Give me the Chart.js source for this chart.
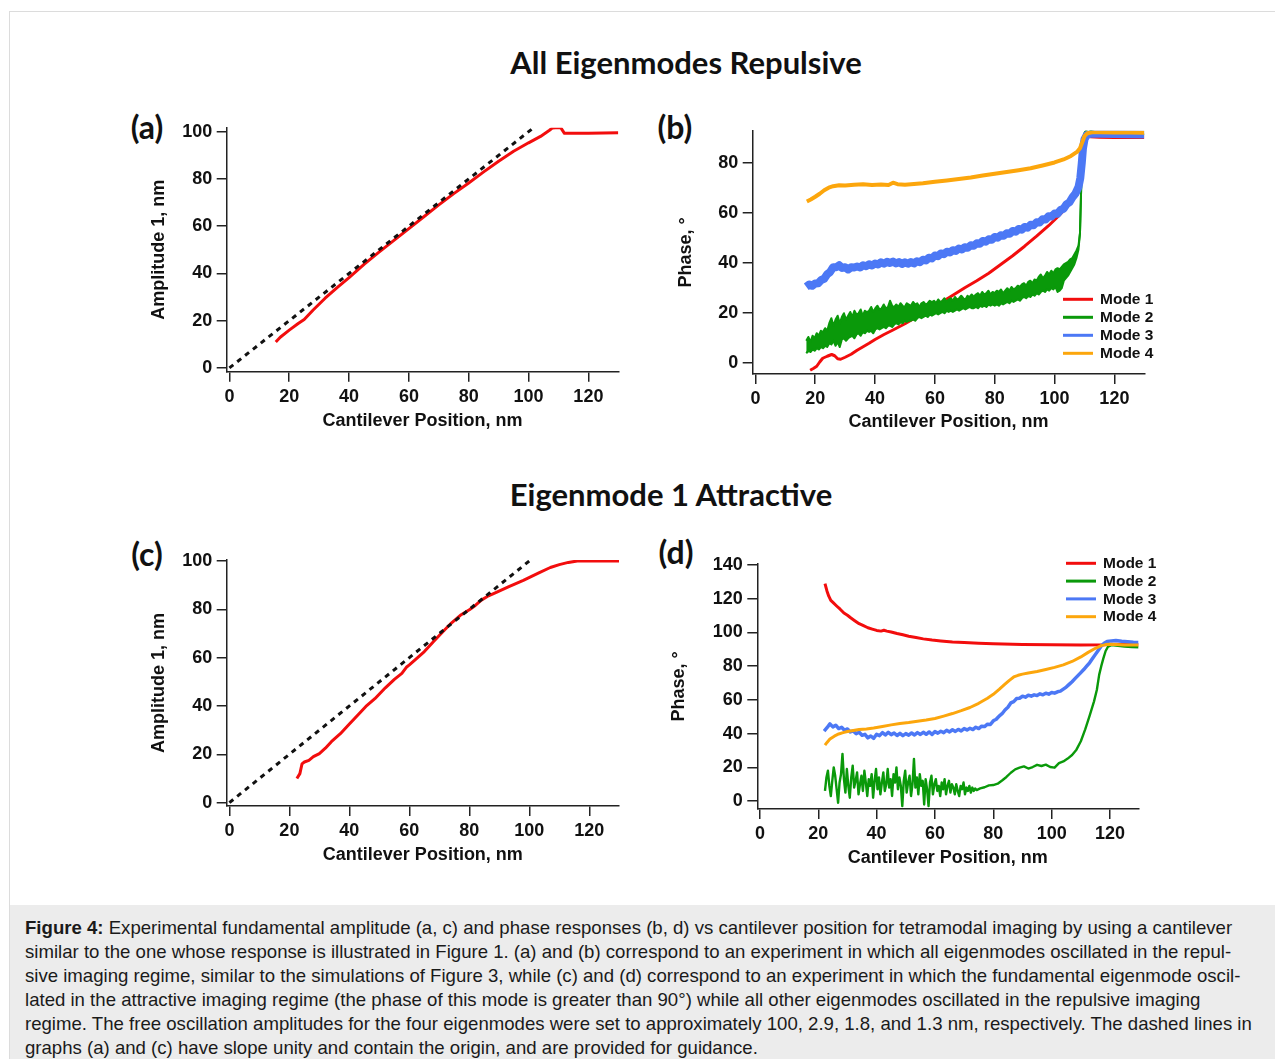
<!DOCTYPE html>
<html>
<head>
<meta charset="utf-8">
<script src="https://cdn.jsdelivr.net/npm/chart.js@4.4.1/dist/chart.umd.min.js"></script>
<style>
  html, body { margin: 0; padding: 0; background: #fff; }
  body { width: 1275px; height: 1059px; position: relative; overflow: hidden;
         font-family: "Liberation Sans", Arial, sans-serif; }
  #frame { position: absolute; left: 9px; top: 11px; width: 1300px; height: 1100px;
           border-left: 1px solid #dcdcdc; border-top: 1px solid #dcdcdc; }
  .heading { position: absolute; font-family: Lato, "Open Sans", sans-serif; font-weight: 700;
             font-size: 31px; color: #111; transform: translate(-50%, -50%); white-space: nowrap; }
  .tag { position: absolute; font-family: Lato, "Open Sans", sans-serif; font-weight: 700;
         font-size: 32px; color: #111; transform: translate(-50%, -50%); white-space: nowrap; }
  canvas { position: absolute; }
  #caption { position: absolute; left: 10px; top: 905px; width: 1265px; height: 154px;
             background: #ececec; box-sizing: border-box; padding: 11px 0 0 15px;
             font-size: 18.6px; line-height: 24px; color: #1a1a1a; }
  #caption div { white-space: nowrap; }
</style>
</head>
<body>
<div id="frame"></div>

<div class="heading" style="left:686px; top:62px;">All Eigenmodes Repulsive</div>
<div class="heading" style="left:671px; top:494px;">Eigenmode 1 Attractive</div>
<div class="tag" style="left:147px; top:126px;">(a)</div>
<div class="tag" style="left:675px; top:126px;">(b)</div>
<div class="tag" style="left:147px; top:553px;">(c)</div>
<div class="tag" style="left:676px; top:551px;">(d)</div>

<canvas id="panelA"></canvas>
<canvas id="panelB"></canvas>
<canvas id="panelC"></canvas>
<canvas id="panelD"></canvas>

<div id="caption">
  <div><b>Figure 4:</b> Experimental fundamental amplitude (a, c) and phase responses (b, d) vs cantilever position for tetramodal imaging by using a cantilever</div>
  <div>similar to the one whose response is illustrated in Figure 1. (a) and (b) correspond to an experiment in which all eigenmodes oscillated in the repul-</div>
  <div>sive imaging regime, similar to the simulations of Figure 3, while (c) and (d) correspond to an experiment in which the fundamental eigenmode oscil-</div>
  <div>lated in the attractive imaging regime (the phase of this mode is greater than 90°) while all other eigenmodes oscillated in the repulsive imaging</div>
  <div>regime. The free oscillation amplitudes for the four eigenmodes were set to approximately 100, 2.9, 1.8, and 1.3 nm, respectively. The dashed lines in</div>
  <div>graphs (a) and (c) have slope unity and contain the origin, and are provided for guidance.</div>
</div>

<script>
// ---------- tick labels ----------
const positionTicks = [0, 20, 40, 60, 80, 100, 120];
const amplitudeTicks = [0, 20, 40, 60, 80, 100];
const phaseTicksB = [0, 20, 40, 60, 80];
const phaseTicksD = [0, 20, 40, 60, 80, 100, 120, 140];
const modeNames = ['Mode 1', 'Mode 2', 'Mode 3', 'Mode 4'];

// unity-slope guide through the origin (panels a, c)
const guideA = { x: [0, 101], y: [0, 101] };
const guideC = { x: [0, 100], y: [0, 100] };

// ---------- (a) amplitude, all eigenmodes repulsive ----------
const ampAx = [15.5, 17, 20, 23, 25, 28, 32, 36, 40, 45, 50, 55, 60, 65, 70, 75, 80, 85, 90, 95, 100, 104, 107, 108, 110, 110.8, 112, 115, 120, 125, 130];
const ampAy = [11, 13, 16, 18.8, 20.5, 24.5, 29.5, 34, 38.2, 43.8, 49, 54, 59, 64, 69, 73.8, 78.3, 83, 87.5, 91.7, 95.3, 98, 100.6, 101.6, 101.8, 101.6, 99.3, 99.3, 99.4, 99.5, 99.6];

// ---------- (b) phase, all eigenmodes repulsive ----------
const phB1x = [18.3, 19.5, 20.5, 21.5, 22.5, 24, 25.5, 26.5, 27.5, 28.5, 30, 32, 34, 36, 38, 40, 43, 46, 50, 54, 58, 62, 66, 70, 74, 78, 82, 86, 90, 94, 98, 101, 103, 105, 106.5, 107.5, 108.2, 108.8, 109.3, 109.8, 110.5, 112, 115, 120, 125, 130];
const phB1y = [-2.8, -2, -1.2, 0.5, 2, 2.8, 3.5, 3, 1.8, 1.6, 2.4, 3.6, 5.2, 6.6, 8, 9.5, 11.5, 13.3, 15.8, 18.6, 21.5, 24.2, 27.2, 30.2, 33, 36, 39.5, 43, 46.8, 50.8, 55, 58.5, 61, 64, 67, 70, 74, 80, 86, 89.5, 90.8, 90.6, 90.4, 90.3, 90.3, 90.3];

// mode 2: noise envelope (upper / lower) sampled every 0.7 nm from 17 nm,
// then the jump to free oscillation
const phB2start = 17, phB2step = 0.7;
const phB2hi = [
  9, 10.5, 8.5, 11, 10, 12, 11, 13, 12.5, 14,
  13, 16, 18, 15, 17.5, 19, 16, 18.5, 20, 17.5,
  19, 20.5, 18.5, 21, 19.5, 20, 21.5, 19, 21, 20.5,
  21, 22.5, 20.5, 22, 23, 21.5, 22, 23.5, 22, 22.5,
  25, 23, 22.5, 23.5, 22.5, 24, 23, 22.5, 24, 23.5,
  23, 24.5, 23.5, 24, 22.5, 24, 24.5, 23.5, 24, 25,
  24.5, 25, 24, 25.5, 24.5, 25, 26, 24.5, 25.5, 26,
  25, 26.5, 25.5, 26, 27, 26, 25.5, 27, 26.5, 27.5,
  26.5, 27.5, 28, 27, 28.5, 27.5, 28, 29, 27.5, 28.5,
  28, 29, 28.5, 29.5, 28, 29, 30, 29, 30.5, 29.5,
  30, 31, 30.5, 31.5, 32, 31, 32.5, 33, 32, 33.5,
  33, 34.5, 35.5, 34, 35, 36.5, 35.5, 37, 36, 37.5,
  38, 37.5, 38.5, 39.5, 40, 40.5, 41.5, 42, 43.5, 45,
  47
];
const phB2lo = [
  4, 5, 4.5, 5.5, 5, 6, 5.5, 6.5, 6, 7,
  6.5, 8, 7.5, 9, 7, 8.5, 6.5, 9.5, 10, 9,
  10, 10.5, 11, 10, 11.5, 12, 11, 12.5, 12, 13,
  12.5, 13, 12, 13.5, 14, 13.5, 14, 14.5, 14, 15,
  15, 14.5, 15.5, 16, 15.5, 16.5, 16, 17, 16.5, 17,
  17, 17.5, 17, 18, 18.5, 18, 18.5, 19, 18.5, 19.5,
  19, 19.5, 20, 19.5, 20, 20.5, 20, 21, 20.5, 21,
  20.5, 21, 21.5, 21, 21.5, 22, 21.5, 22, 22.5, 22,
  22, 22.5, 22, 23, 22.5, 23, 22.5, 23.5, 23, 23.5,
  23, 23.5, 23, 24, 23.5, 24, 24.5, 24, 25, 24.5,
  25, 25.5, 25, 26, 26.5, 26, 27, 26.5, 27.5, 27,
  28, 27.5, 28.5, 29, 28.5, 29.5, 29, 30, 29.5, 30.5,
  28.5, 29, 30, 33, 34, 35, 36.5, 38, 39.5, 42,
  45.5
];
const phB2tailX = [108.5, 108.9, 109.2, 109.5, 110, 110.8, 111.5, 112.5, 114, 117, 120, 125, 130];
const phB2tailY = [52, 70, 85, 90, 92, 93.5, 93.8, 92.8, 92.3, 92, 91.8, 91.6, 91.5];

// mode 3: sampled every 1 nm from 17 nm
const phB3start = 17, phB3step = 1;
const phB3y = [
  30.6, 31.5, 31, 31.9, 32, 33.3, 33.8, 35.6, 36.5, 38.4,
  38.4, 39.2, 38.1, 38.4, 37.5, 38.4, 38.3, 38.7, 38.3, 39.2,
  38.8, 39.6, 39.1, 39.9, 39.5, 40.4, 39.8, 40.6, 40.1, 40.7,
  39.9, 40.5, 39.7, 40.4, 39.8, 40.5, 39.9, 40.8, 40.4, 41.4,
  41.1, 42.2, 41.9, 43.1, 42.8, 43.9, 43.6, 44.6, 44.3, 45.2,
  44.9, 45.9, 45.5, 46.4, 46.2, 47.2, 47, 48, 47.8, 48.9,
  48.6, 49.6, 49.4, 50.5, 50.2, 51.2, 51, 52, 51.8, 52.9,
  52.6, 53.7, 53.4, 54.5, 54.2, 55.4, 55.2, 56.4, 56.3, 57.6,
  57.5, 58.8, 58.7, 59.9, 59.8, 61.3, 61.8, 63.6, 64.4, 66.4,
  67.9
];
const phB3tailX = [108, 108.6, 109.1, 109.5, 110, 110.8, 112, 115, 120, 125, 130];
const phB3tailY = [70.5, 74, 80, 86, 89.5, 91.3, 91.8, 91.8, 91.7, 91.6, 91.5];

const phB4x = [17.2, 18.5, 20, 21.5, 23, 24.5, 26, 28, 30, 33, 36, 39, 42, 44.5, 46, 47.5, 50, 53, 56, 60, 64, 68, 72, 76, 80, 84, 88, 92, 96, 100, 103, 105.5, 107.5, 108.5, 109.3, 110, 111, 112.5, 115, 120, 125, 130];
const phB4y = [64.7, 65.5, 66.6, 67.8, 69.2, 70.2, 70.8, 71.2, 71.1, 71.4, 71.6, 71.3, 71.5, 71.3, 72.2, 71.6, 71.4, 71.7, 72.0, 72.6, 73.1, 73.7, 74.3, 75.1, 75.8, 76.5, 77.2, 78, 79.1, 80.3, 81.5, 82.9, 84.5, 86, 88.5, 90.8, 92, 92.4, 92.4, 92.3, 92.3, 92.2];

// ---------- (c) amplitude, eigenmode 1 attractive ----------
const ampCx = [22.5, 23.5, 24.2, 25, 26.5, 28, 30, 32, 34, 37, 40, 43, 45.5, 48.5, 52, 55, 57.5, 59, 60, 62, 65, 68, 71, 74, 77, 80, 82, 84, 86, 89, 93, 98, 103, 107, 110, 113, 116, 120, 125, 130];
const ampCy = [10, 12, 16, 16.8, 17.5, 19, 20.3, 22.5, 25.2, 28.5, 32.5, 36.5, 39.8, 43, 47.5, 51, 53.5, 56, 57, 59.2, 62.5, 66.6, 70.5, 74.3, 77.5, 79.8, 81.6, 83.8, 85.3, 87, 89.3, 92, 95, 97.3, 98.5, 99.4, 100, 100, 100, 100];

// ---------- (d) phase, eigenmode 1 attractive ----------
const phD1x = [22.3, 22.6, 23, 23.6, 24.3, 25.2, 26.3, 27.5, 28.8, 30, 31.2, 32.5, 34, 35.5, 37, 38.5, 40, 41.5, 42.5, 43.5, 45, 47, 49, 51, 53.5, 56, 59, 62, 66, 70, 75, 80, 90, 100, 110, 118, 122, 126, 130];
const phD1y = [129, 127, 124.5, 121.5, 119, 117.5, 115.7, 113.8, 111.5, 110.2, 108.6, 107, 105.2, 104, 102.8, 102, 101.2, 100.8, 101.3, 100.8, 100.3, 99.4, 98.6, 97.8, 97, 96.2, 95.5, 95, 94.4, 94, 93.6, 93.3, 92.9, 92.7, 92.5, 92.7, 93, 92.8, 92.7];

// mode 2: noisy section sampled every 0.5 nm from 22.3 nm, then the smoother rise
const phD2start = 22.3, phD2step = 0.5;
const phD2y = [
  6, 14, 18, 9, 3, 12, 20, 15, 7, -1,
  11, 16, 28, 13, 5, 19, 9, 2, 14, 21,
  8, 12, 17, 4, 10, 15, 6, 18, 11, 3,
  13, 9, 16, 2, 12, 19, 7, 14, 4, 11,
  17, 6, 10, 19, 8, 13, 3, 16, 11, 20,
  7, 14, 9, -3, 12, 18, 5, 11, 15, 3,
  10, 25, 8, 14, 4, 16, 9, 12, -2, 13,
  7, -3, 11, 15, 4, 10, 13, 6, 9, 3,
  11, 7, 13, 4, 9, 12, 5, 10, 8, 4,
  10, 6, 3, 9, 7, 11, 4, 8, 6, 9,
  5, 8, 6, 7.5, 6.5
];
const phD2tailX = [75.5, 77, 78.5, 80, 81.5, 83, 84.5, 86, 87.5, 89, 90.5, 92, 93.5, 95, 96.5, 98, 99.5, 101, 102.5, 104, 105.5, 107, 108.5, 110, 111.5, 113, 114.5, 115.5, 116.3, 117, 117.7, 118.5, 119.3, 120.5, 122, 125, 127.5, 130];
const phD2tailY = [7.5, 8.2, 9.3, 9.5, 10.3, 12.2, 14.3, 16.8, 18.8, 19.8, 20.6, 19.3, 20.2, 21.5, 20.8, 21.6, 20.2, 19.8, 22.5, 23.5, 25.2, 27.3, 30.5, 35.5, 42.5, 50.5, 59, 66, 75, 80, 84.5, 89, 91.5, 92.5, 92.2, 91.6, 91.3, 91.2];

// mode 3: sampled every 1 nm from 22 nm
const phD3start = 22, phD3step = 1;
const phD3y = [
  41.5, 43.5, 45.8, 44, 45, 43, 43.8, 42, 42.8, 41,
  41.6, 40, 40.8, 39, 39.6, 37.5, 38.6, 37.2, 39.6, 38.8,
  40.6, 39.2, 40.8, 39.4, 40.4, 38.9, 40.2, 38.8, 40, 39.1,
  40.4, 39.2, 40.6, 39.5, 40.8, 39.6, 41, 39.5, 41.2, 40.3,
  41.4, 40.6, 42, 41, 42.3, 41.3, 42.5, 41.6, 43, 42.2,
  43.2, 42.4, 43.8, 43, 44.4, 44.2, 45.6, 45.4, 47.6, 48.5,
  50.4, 51.8, 54, 55.6, 58.2, 59, 60.8, 61, 62.2, 61.6,
  62.8, 62.2, 63, 62.6, 63.6, 63, 64, 63.4, 64.4, 64,
  64.8, 65.2, 66.4, 67.6, 69.2, 70.8, 72.6, 74.4, 76.2, 78,
  80, 82, 84.5, 87, 89.5, 92, 93.6, 94.6
];
const phD3tailX = [120.5, 122, 124, 126, 128, 130];
const phD3tailY = [95, 95.2, 94.8, 94.5, 94.2, 94];

const phD4x = [22.3, 23, 24, 25.5, 27, 28.5, 30, 32, 34, 36.5, 39, 42, 45, 48, 51, 54, 57, 60, 63, 66, 69, 72, 75, 78, 80, 82, 84, 85.5, 87, 88.5, 90, 92, 95, 98, 101, 104, 107, 110, 112.5, 115, 117, 118.5, 120, 122, 125, 128, 130];
const phD4y = [33.2, 34.8, 36.8, 38.5, 39.8, 40.6, 41.3, 41.9, 42.4, 42.8, 43.3, 44.2, 45.2, 46, 46.6, 47.4, 48.1, 49, 50.4, 51.9, 53.6, 55.5, 58, 61, 63.3, 66.2, 69.3, 71.6, 73.6, 74.6, 75.3, 75.9, 76.8, 78, 79.3, 80.8, 82.8, 85.5, 88.2, 90.6, 92.2, 92.8, 93, 92.8, 92.6, 92.6, 92.5];

// ---------- helpers ----------
const colors = { m1: '#f20d0d', m2: '#0a990a', m3: '#4c78f5', m4: '#fca60c', guide: '#111111' };
const pts = (xs, ys) => xs.map((x, i) => ({ x, y: ys[i] }));
const sampled = (start, step, ys, tailX, tailY) =>
  ys.map((y, i) => ({ x: +(start + i * step).toFixed(2), y })).concat(pts(tailX, tailY));

const tickFont = { family: '"Liberation Sans", Arial, sans-serif', size: 18, weight: 'bold' };
const legendFont = 'bold 15.5px "Liberation Sans", Arial, sans-serif';

// legend drawn inside the plot, next to the curves
const modeLegend = {
  id: 'modeLegend',
  afterDraw(chart, args, opts) {
    if (!opts || !opts.display) return;
    const ctx = chart.ctx;
    ctx.save();
    let row = 0;
    chart.data.datasets.forEach(ds => {
      if (!ds.label) return;
      const y = opts.y + row * opts.gap;
      ctx.strokeStyle = ds.borderColor;
      ctx.lineWidth = 3;
      ctx.beginPath();
      ctx.moveTo(opts.x, y);
      ctx.lineTo(opts.x + 30, y);
      ctx.stroke();
      ctx.fillStyle = '#111';
      ctx.font = legendFont;
      ctx.textBaseline = 'middle';
      ctx.textAlign = 'left';
      ctx.fillText(ds.label, opts.x + 37, y + 0.5);
      row++;
    });
    ctx.restore();
  }
};

function axis(range, ticks, title, titlePad, fixSize) {
  return {
    type: 'linear',
    min: range[0], max: range[1],
    afterBuildTicks: s => { s.ticks = ticks.map(v => ({ value: v })); },
    afterFit: fixSize,
    ticks: { color: '#111', font: tickFont, padding: 4.5, autoSkip: false, maxRotation: 0, minRotation: 0 },
    grid: { drawOnChartArea: false, drawTicks: true, tickLength: 10, color: '#222', lineWidth: 1.5 },
    border: { display: true, color: '#222', width: 1.5 },
    title: { display: true, text: title, color: '#111', font: tickFont, padding: titlePad }
  };
}

function panel(id, box, area, xRange, yRange, yTicks, yTitle, titlePads, datasets, legend) {
  const cv = document.getElementById(id);
  cv.width = box.w; cv.height = box.h;
  cv.style.left = box.l + 'px'; cv.style.top = box.t + 'px';
  cv.style.width = box.w + 'px'; cv.style.height = box.h + 'px';
  new Chart(cv, {
    type: 'line',
    data: { datasets },
    options: {
      responsive: false, animation: false, devicePixelRatio: 1,
      layout: { padding: { left: 0, top: area.t - box.t, right: box.l + box.w - area.r, bottom: 0 } },
      plugins: { legend: { display: false }, tooltip: { enabled: false }, modeLegend: legend || { display: false },
                 filler: { propagate: false } },
      elements: { point: { radius: 0 }, line: { tension: 0, borderJoinStyle: 'round' } },
      scales: {
        x: axis(xRange, positionTicks, 'Cantilever Position, nm', { top: 0, bottom: titlePads.x },
                s => { s.height = box.t + box.h - area.b; }),
        y: axis(yRange, yTicks, yTitle, { top: titlePads.y, bottom: 0 },
                s => { s.width = area.l - box.l; })
      }
    },
    plugins: [modeLegend]
  });
}

const line = (label, data, color, width, order) =>
  ({ label, data, borderColor: color, backgroundColor: color, borderWidth: width, fill: false, order });
// noisy trace shown as its upper/lower envelope, filled in between
const band = (label, upper, lower, color, width, order) => [
  { label, data: upper, borderColor: color, backgroundColor: color, borderWidth: width, fill: false, order },
  { label: '', data: lower, borderColor: color, backgroundColor: color, borderWidth: width, fill: '-1', order }
];
const guide = (g) => ({ label: '', data: pts(g.x, g.y), borderColor: colors.guide, borderWidth: 3,
                        borderDash: [5, 5], fill: false, order: 0 });

// ---------- panels ----------
panel('panelA', { l: 135, t: 100, w: 505, h: 340 }, { l: 226.7, t: 127.7, r: 618.3, b: 371.7 },
  [-0.9, 130], [-1.6, 101.7], amplitudeTicks, 'Amplitude 1, nm', { x: 8.2, y: 13.2 },
  [guide(guideA), line('', pts(ampAx, ampAy), colors.m1, 3, 1)]);

panel('panelB', { l: 660, t: 100, w: 510, h: 345 }, { l: 752.7, t: 130.7, r: 1144.3, b: 374 },
  [-0.9, 130], [-4.3, 93], phaseTicksB, 'Phase, °', { x: 11.7, y: 15.2 },
  [
    line(modeNames[0], pts(phB1x, phB1y), colors.m1, 3, 4),
    ...band(modeNames[1],
            sampled(phB2start, phB2step, phB2hi, phB2tailX, phB2tailY),
            sampled(phB2start, phB2step, phB2lo, phB2tailX, phB2tailY),
            colors.m2, 2, 3),
    line(modeNames[2], sampled(phB3start, phB3step, phB3y, phB3tailX, phB3tailY), colors.m3, 8, 2),
    line(modeNames[3], pts(phB4x, phB4y), colors.m4, 4, 1)
  ],
  { display: true, x: 403, y: 199.3, gap: 18 });

panel('panelC', { l: 135, t: 535, w: 505, h: 340 }, { l: 226.7, t: 560, r: 619, b: 806 },
  [-0.9, 129.9], [-1.4, 100.4], amplitudeTicks, 'Amplitude 1, nm', { x: 9.2, y: 13.7 },
  [guide(guideC), line('', pts(ampCx, ampCy), colors.m1, 3, 1)]);

panel('panelD', { l: 660, t: 540, w: 510, h: 340 }, { l: 757.3, t: 564, r: 1138.3, b: 809 },
  [-0.9, 129.7], [-4.7, 140.6], phaseTicksD, 'Phase, °', { x: 11.2, y: 8.2 },
  [
    line(modeNames[0], pts(phD1x, phD1y), colors.m1, 3, 4),
    line(modeNames[1], sampled(phD2start, phD2step, phD2y, phD2tailX, phD2tailY), colors.m2, 2.4, 3),
    line(modeNames[2], sampled(phD3start, phD3step, phD3y, phD3tailX, phD3tailY), colors.m3, 3.5, 2),
    line(modeNames[3], pts(phD4x, phD4y), colors.m4, 3, 1)
  ],
  { display: true, x: 406, y: 23.3, gap: 17.8 });
</script>
</body>
</html>
